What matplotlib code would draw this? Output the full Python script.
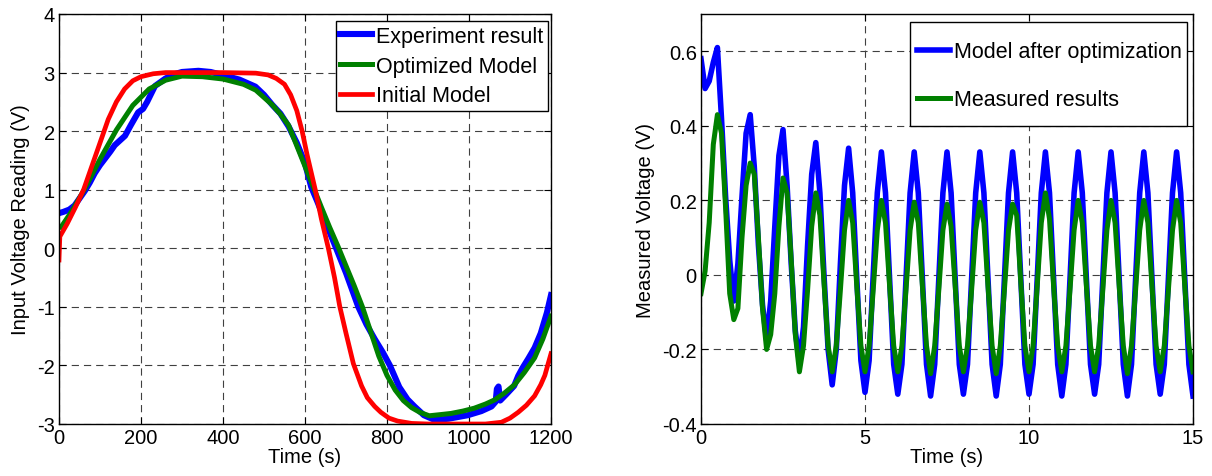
#!/usr/bin/env python3
# -*- coding: utf-8 -*-

"""
Two panel figure:
    left  - input voltage, experiment vs optimized / initial model
    right - measured voltage, model after optimization vs measurement
"""

import numpy as np
import matplotlib.pyplot as plt
from matplotlib.patches import Rectangle

# ---------------- left panel data (time in s, voltage in V) ----------------
t_exp = [0, 10, 25, 38, 50, 63, 75, 87, 100, 112, 125, 136, 150, 161, 175,
         193, 205, 215, 234, 260, 280, 300, 340, 370, 398, 440, 479, 500, 520,
         540, 560, 580, 600, 615, 630, 650, 676, 700, 730, 750, 770, 790, 807,
         830, 850, 867, 890, 916, 950, 997, 1030, 1055, 1065, 1068, 1072, 1076,
         1090, 1110, 1120, 1130, 1145, 1160, 1175, 1190, 1200]
v_exp = [0.60, 0.62, 0.66, 0.73, 0.85, 0.98, 1.12, 1.28, 1.42, 1.53, 1.65,
         1.76, 1.85, 1.92, 2.10, 2.32, 2.38, 2.50, 2.77, 2.90, 2.97, 3.01,
         3.03, 3.01, 2.96, 2.88, 2.76, 2.62, 2.45, 2.30, 2.08, 1.80, 1.45,
         1.05, 0.80, 0.45, 0.00, -0.42, -1.00, -1.30, -1.55, -1.78, -2.00,
         -2.37, -2.58, -2.70, -2.85, -2.93, -2.91, -2.85, -2.78, -2.70, -2.62,
         -2.40, -2.36, -2.60, -2.50, -2.35, -2.18, -2.05, -1.88, -1.70, -1.45,
         -1.10, -0.80]

t_opt = [5, 30, 60, 100, 140, 180, 220, 260, 300, 350, 400, 450, 480, 520,
         540, 560, 580, 600, 620, 640, 660, 680, 700, 720, 740, 760, 780, 800,
         820, 840, 860, 880, 903, 930, 956, 985, 1013, 1040, 1062, 1085, 1111,
         1135, 1160, 1180, 1200]
v_opt = [0.36, 0.62, 0.98, 1.52, 2.02, 2.44, 2.72, 2.87, 2.94, 2.93, 2.89,
         2.80, 2.70, 2.45, 2.29, 2.10, 1.75, 1.40, 1.05, 0.70, 0.36, 0.04,
         -0.30, -0.64, -1.00, -1.42, -1.84, -2.17, -2.42, -2.60, -2.72,
         -2.80, -2.86, -2.84, -2.82, -2.78, -2.73, -2.66, -2.59, -2.48, -2.33,
         -2.12, -1.87, -1.55, -1.16]

t_init = [0, 2, 20, 40, 60, 80, 100, 120, 140, 160, 180, 200, 230, 260, 400,
          480, 510, 530, 550, 565, 580, 593, 605, 625, 640, 657, 672, 685,
          700, 718, 738, 752, 770, 785, 805, 826, 860, 900, 1040, 1079, 1100,
          1120, 1140, 1160, 1175, 1185, 1200]
v_init = [-0.20, 0.20, 0.42, 0.70, 1.00, 1.40, 1.80, 2.20, 2.50, 2.72, 2.86,
          2.93, 2.98, 3.00, 3.00, 2.99, 2.96, 2.90, 2.80, 2.62, 2.35, 2.00,
          1.60, 1.00, 0.50, 0.00, -0.50, -1.00, -1.45, -1.97, -2.35, -2.55,
          -2.70, -2.80, -2.90, -2.95, -2.99, -3.00, -3.00, -2.97, -2.90,
          -2.80, -2.68, -2.52, -2.33, -2.17, -1.80]

# ---------------- right panel data (sampled every 0.125 s) ----------------
dt_right = 0.125
v_model = [
    0.58, 0.50, 0.52, 0.57, 0.61, 0.42, 0.21, 0.04,
    -0.07, 0.03, 0.21, 0.38, 0.43, 0.29, 0.08, -0.08,
    -0.175, -0.07, 0.13, 0.32, 0.39, 0.24, 0.03, -0.15,
    -0.235, -0.14, 0.08, 0.27, 0.355, 0.22, 0.00, -0.20,
    -0.295, -0.20, 0.03, 0.24, 0.34, 0.22, -0.01, -0.23,
    -0.315, -0.23, 0.00, 0.22, 0.33, 0.22, -0.01, -0.24,
    -0.32, -0.24, -0.01, 0.22, 0.33, 0.22, -0.01, -0.24,
    -0.325, -0.24, -0.01, 0.22, 0.33, 0.22, -0.01, -0.24,
    -0.32, -0.24, -0.01, 0.22, 0.33, 0.22, -0.01, -0.24,
    -0.325, -0.24, -0.01, 0.22, 0.33, 0.22, -0.01, -0.24,
    -0.32, -0.24, -0.01, 0.22, 0.33, 0.22, -0.01, -0.24,
    -0.325, -0.24, -0.01, 0.22, 0.33, 0.22, -0.01, -0.24,
    -0.32, -0.24, -0.01, 0.22, 0.33, 0.22, -0.01, -0.24,
    -0.325, -0.24, -0.01, 0.22, 0.33, 0.22, -0.01, -0.24,
    -0.32, -0.24, -0.01, 0.22, 0.33, 0.22, -0.01, -0.24,
    -0.325,
]
v_meas = [
    -0.05, 0.01, 0.14, 0.35, 0.43, 0.38, 0.18, -0.05,
    -0.12, -0.09, 0.10, 0.24, 0.30, 0.27, 0.10, -0.09,
    -0.20, -0.16, -0.05, 0.13, 0.26, 0.22, 0.04, -0.16,
    -0.26, -0.19, -0.04, 0.13, 0.22, 0.16, -0.02, -0.19,
    -0.26, -0.19, -0.04, 0.12, 0.20, 0.14, -0.03, -0.19,
    -0.26, -0.19, -0.04, 0.12, 0.20, 0.14, -0.03, -0.19,
    -0.26, -0.19, -0.04, 0.12, 0.195, 0.14, -0.03, -0.19,
    -0.265, -0.19, -0.04, 0.12, 0.19, 0.13, -0.03, -0.19,
    -0.26, -0.19, -0.04, 0.12, 0.195, 0.14, -0.03, -0.19,
    -0.265, -0.19, -0.04, 0.12, 0.19, 0.16, -0.02, -0.19,
    -0.26, -0.19, -0.03, 0.14, 0.22, 0.15, -0.03, -0.19,
    -0.26, -0.19, -0.04, 0.12, 0.20, 0.14, -0.03, -0.19,
    -0.26, -0.19, -0.04, 0.12, 0.20, 0.14, -0.03, -0.19,
    -0.265, -0.19, -0.04, 0.12, 0.20, 0.14, -0.03, -0.19,
    -0.26, -0.19, -0.04, 0.12, 0.20, 0.14, -0.03, -0.19,
    -0.26,
]

# ticks
left_xticks = [0, 200, 400, 600, 800, 1000, 1200]
left_yticks = [-3, -2, -1, 0, 1, 2, 3, 4]
right_xticks = [0, 5, 10, 15]
right_yticks = [-0.4, -0.2, 0, 0.2, 0.4, 0.6]
right_yticklabels = ["-0.4", "-0.2", "0", "0.2", "0.4", "0.6"]

FS = 14.5
LEG_FS = 15.5


def style_axes(ax):
    ax.grid(True, color="0.25", linestyle=(0, (6.5, 4.5)), linewidth=0.8)
    ax.tick_params(direction="in", top=True, right=True, length=5,
                   width=0.8, labelsize=FS, pad=3)
    for sp in ax.spines.values():
        sp.set_linewidth(1.0)
        sp.set_color("black")


def main():
    plt.rcParams["font.family"] = ["Liberation Sans", "DejaVu Sans"]
    plt.rcParams["axes.unicode_minus"] = False

    fig = plt.figure(figsize=(12.12, 4.77), dpi=100)
    ax1 = fig.add_axes([59 / 1212, 52 / 477, 492 / 1212, 410 / 477])
    ax2 = fig.add_axes([701 / 1212, 52 / 477, 492 / 1212, 410 / 477])

    # Left panel
    ax1.plot(t_exp, v_exp, color="#0000ff", linewidth=4.4, label="Experiment result")
    ax1.plot(t_opt, v_opt, color="#008000", linewidth=3.6, label="Optimized Model")
    ax1.plot(t_init, v_init, color="#ff0000", linewidth=3.4, label="Initial Model")
    ax1.set_xlim(0, 1200)
    ax1.set_ylim(-3, 4)
    ax1.set_xticks(left_xticks)
    ax1.set_yticks(left_yticks)
    ax1.set_xlabel("Time (s)", fontsize=FS, labelpad=0)
    ax1.set_ylabel("Input Voltage Reading (V)", fontsize=FS, labelpad=5)
    style_axes(ax1)
    leg1 = ax1.legend(loc="upper right", bbox_to_anchor=(0.994, 0.982),
                      borderaxespad=0, fontsize=LEG_FS, fancybox=False,
                      edgecolor="black", framealpha=1, handlelength=1.5,
                      handletextpad=0.2, labelspacing=0.41, borderpad=0.2)
    leg1.get_frame().set_linewidth(1.0)

    # Right panel
    t_right = np.arange(len(v_model)) * dt_right
    ax2.plot(t_right, v_model, color="#0000ff", linewidth=4.0,
             label="Model after optimization")
    ax2.plot(t_right, v_meas, color="#008000", linewidth=3.6,
             label="Measured results")
    ax2.set_xlim(0, 15)
    ax2.set_ylim(-0.4, 0.7)
    ax2.set_xticks(right_xticks)
    ax2.set_yticks(right_yticks)
    ax2.set_yticklabels(right_yticklabels)
    ax2.set_xlabel("Time (s)", fontsize=FS, labelpad=0)
    ax2.set_ylabel("Measured Voltage (V)", fontsize=FS, labelpad=5)
    style_axes(ax2)
    # MATLAB-like tall legend box: frame drawn separately, entries spread out
    ax2.add_patch(Rectangle((0.4248, 0.7268), 0.563, 0.2537,
                            transform=ax2.transAxes, facecolor="white",
                            edgecolor="black", linewidth=1.0, zorder=4.5))
    ax2.legend(loc="upper right", bbox_to_anchor=(0.988, 0.9463),
               borderaxespad=0, fontsize=LEG_FS, frameon=False,
               handlelength=1.5, handletextpad=0.2, labelspacing=1.25,
               borderpad=0.25)

    fig.savefig("out.png", dpi=100)


if __name__ == "__main__":
    main()
